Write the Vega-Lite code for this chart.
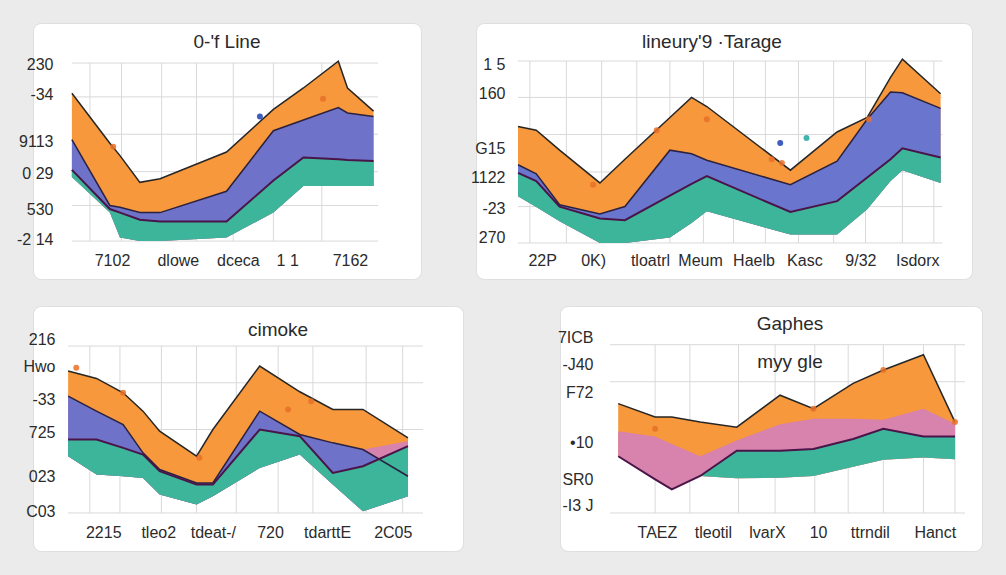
{
  "$schema": "https://vega.github.io/schema/vega-lite/v6.json",
  "background": "#ebebeb",
  "padding": {"left": 16, "top": 22, "right": 24, "bottom": 27},
  "spacing": 25,
  "config": {
    "view": {"stroke": null},
    "axis": {"domain": false, "ticks": false, "grid": false, "labelFont": "Liberation Sans", "labelFontSize": 16, "labelColor": "#2b2b2b", "labelOverlap": false, "labelFlush": false, "labelPadding": 2},
    "title": {"font": "Liberation Sans", "fontSize": 19, "fontWeight": "normal", "color": "#2a2a2a", "anchor": "middle", "subtitleFont": "Liberation Sans", "subtitleFontSize": 19, "subtitleColor": "#2a2a2a"},
    "point": {"filled": true, "size": 36, "opacity": 0.85}
  },
  "datasets": {
    "p1": [
      {"x": 0, "orange": 83, "blue": 57, "teal": 40, "base": 36},
      {"x": 1.24, "orange": 55, "blue": 20, "teal": 18, "base": 16},
      {"x": 1.57, "orange": 48, "blue": 19, "teal": 16, "base": 2},
      {"x": 2.22, "orange": 33, "blue": 16, "teal": 12, "base": 0},
      {"x": 2.88, "orange": 35, "blue": 16, "teal": 11, "base": 0},
      {"x": 5.05, "orange": 50, "blue": 28, "teal": 11, "base": 2},
      {"x": 6.58, "orange": 74, "blue": 62, "teal": 34, "base": 16},
      {"x": 7.56, "orange": 86, "blue": 68, "teal": 47, "base": 31},
      {"x": 8.7, "orange": 101, "blue": 75, "teal": 46, "base": 31},
      {"x": 9.0, "orange": 86, "blue": 72, "teal": 45.5, "base": 31},
      {"x": 9.85, "orange": 73, "blue": 70, "teal": 45, "base": 31}
    ],
    "d1": [
      {"x": 6.14, "v": 70, "kind": "blue"},
      {"x": 1.35, "v": 53, "kind": "orange"},
      {"x": 8.2, "v": 80, "kind": "orange"}
    ],
    "p2": [
      {"x": 0, "orange": 64, "blue": 43, "teal": 38.5, "base": 25.7},
      {"x": 0.43, "orange": 62, "blue": 38, "teal": 34, "base": 19.8},
      {"x": 0.98, "orange": 51, "blue": 21, "teal": 20, "base": 12},
      {"x": 1.93, "orange": 33, "blue": 16, "teal": 13.5, "base": 0},
      {"x": 2.52, "orange": 46, "blue": 20, "teal": 12.5, "base": 0},
      {"x": 3.58, "orange": 69, "blue": 51, "teal": 26, "base": 3},
      {"x": 4.09, "orange": 80, "blue": 49, "teal": 32.5, "base": 11},
      {"x": 4.45, "orange": 75, "blue": 45.5, "teal": 36.7, "base": 17.4},
      {"x": 6.42, "orange": 40, "blue": 32, "teal": 17, "base": 4.6},
      {"x": 7.52, "orange": 61, "blue": 45, "teal": 23, "base": 4.6},
      {"x": 8.23, "orange": 69, "blue": 68, "teal": 36, "base": 18.5},
      {"x": 8.78, "orange": 91, "blue": 83, "teal": 46, "base": 34},
      {"x": 9.06, "orange": 101, "blue": 82.6, "teal": 52, "base": 40},
      {"x": 9.96, "orange": 82, "blue": 74, "teal": 47, "base": 33}
    ],
    "d2": [
      {"x": 6.18, "v": 55, "kind": "blue"},
      {"x": 6.8, "v": 57.7, "kind": "teal"},
      {"x": 1.77, "v": 32, "kind": "orange"},
      {"x": 4.45, "v": 68, "kind": "orange"},
      {"x": 3.27, "v": 62, "kind": "orange"},
      {"x": 5.98, "v": 46, "kind": "orange"},
      {"x": 6.22, "v": 44, "kind": "orange"},
      {"x": 8.27, "v": 68, "kind": "orange"}
    ],
    "p3": [
      {"x": 0, "orange": 85, "pink": 70, "blue": 70, "teal": 44, "base": 34},
      {"x": 0.8, "orange": 80.6, "pink": 61, "blue": 61, "teal": 44, "base": 23},
      {"x": 1.55, "orange": 72, "pink": 53, "blue": 53, "teal": 39, "base": 22},
      {"x": 2.11, "orange": 61, "pink": 36, "blue": 36, "teal": 35, "base": 21},
      {"x": 2.58, "orange": 49, "pink": 26, "blue": 26, "teal": 25, "base": 11},
      {"x": 3.62, "orange": 34, "pink": 18, "blue": 18, "teal": 17, "base": 5},
      {"x": 4.08, "orange": 50, "pink": 18, "blue": 18, "teal": 17, "base": 10},
      {"x": 5.4, "orange": 88, "pink": 61, "blue": 61, "teal": 50, "base": 27},
      {"x": 6.53, "orange": 72.6, "pink": 47, "blue": 47, "teal": 46, "base": 35},
      {"x": 7.46, "orange": 62, "pink": 42, "blue": 42, "teal": 24, "base": 17},
      {"x": 8.31, "orange": 62, "pink": 38, "blue": 38, "teal": 28, "base": 1},
      {"x": 9.58, "orange": 45, "pink": 43, "blue": 22, "teal": 40, "base": 10}
    ],
    "d3": [
      {"x": 0.23, "v": 87, "kind": "orange"},
      {"x": 6.85, "v": 67, "kind": "orange"},
      {"x": 6.2, "v": 62, "kind": "orange"},
      {"x": 3.7, "v": 33, "kind": "orange"},
      {"x": 1.55, "v": 72, "kind": "orange"}
    ],
    "p4": [
      {"x": 0.23, "orange": 65, "pink": 48.5, "teal": 33.7, "base": 33.7},
      {"x": 1.27, "orange": 57, "pink": 45.5, "teal": 20, "base": 20},
      {"x": 1.74, "orange": 57, "pink": 41, "teal": 14, "base": 14},
      {"x": 2.54, "orange": 54, "pink": 33.7, "teal": 22, "base": 22},
      {"x": 3.57, "orange": 51, "pink": 43, "teal": 37, "base": 20.6},
      {"x": 4.79, "orange": 70, "pink": 52.7, "teal": 37, "base": 21},
      {"x": 5.73, "orange": 62, "pink": 56, "teal": 38, "base": 22},
      {"x": 6.85, "orange": 77, "pink": 56, "teal": 44, "base": 27.5},
      {"x": 7.7, "orange": 85, "pink": 55.4, "teal": 50, "base": 31.7},
      {"x": 8.83, "orange": 94, "pink": 62, "teal": 45.5, "base": 33},
      {"x": 9.72, "orange": 54, "pink": 53, "teal": 45.5, "base": 32}
    ],
    "d4": [
      {"x": 1.27, "v": 50, "kind": "orange"},
      {"x": 5.73, "v": 62, "kind": "orange"},
      {"x": 7.7, "v": 85, "kind": "orange"},
      {"x": 9.72, "v": 54, "kind": "orange"}
    ]
  },
  "vconcat": [
    {
      "bounds": "flush",
      "spacing": 55,
      "hconcat": [
        {
          "width": 388, "height": 256,
          "view": {"fill": "#ffffff", "cornerRadius": 8, "stroke": "#dedede"},
          "title": {"text": "0-'f Line", "offset": -29},
          "layer": [
            {"data": {"values": [{"g": 0.59}, {"g": 1.62}, {"g": 2.93}, {"g": 4.07}, {"g": 5.27}, {"g": 6.58}, {"g": 8.16}]},
             "mark": {"type": "rule", "color": "#d9d9d9", "strokeWidth": 1},
             "encoding": {
               "x": {"field": "g", "type": "quantitative", "scale": {"domain": [-1.27, 11.4], "nice": false, "zero": false},
                     "axis": {"title": null, "offset": -29, "values": [1.31, 3.46, 5.42, 7.03, 9.08], "labelExpr": "['7102','dlowe','dceca','1 1','7162'][indexof([1.31,3.46,5.42,7.03,9.08], datum.value)]"}},
               "y": {"datum": 0}, "y2": {"datum": 100}}},
            {"data": {"values": [{"h": 0}, {"h": 20}, {"h": 39}, {"h": 60}, {"h": 81}, {"h": 100}]},
             "mark": {"type": "rule", "color": "#d9d9d9", "strokeWidth": 1},
             "encoding": {
               "y": {"field": "h", "type": "quantitative", "scale": {"domain": [-21.3, 122.5], "nice": false, "zero": false},
                     "axis": {"title": null, "offset": -22, "values": [1.1, 18, 38, 56, 82.6, 99.4], "labelExpr": "['-2 14','530','0 29','9113','-34','230'][indexof([1.1,18,38,56,82.6,99.4], datum.value)]"}},
               "x": {"datum": 0}, "x2": {"datum": 10}}},
            {"data": {"name": "p1"}, "mark": {"type": "area", "color": "#F6983B"},
             "encoding": {"x": {"field": "x", "type": "quantitative"}, "y": {"field": "orange", "type": "quantitative"}, "y2": {"field": "base"}}},
            {"data": {"name": "p1"}, "mark": {"type": "area", "color": "#6E72C9"},
             "encoding": {"x": {"field": "x", "type": "quantitative"}, "y": {"field": "blue", "type": "quantitative"}, "y2": {"field": "base"}}},
            {"data": {"name": "p1"}, "mark": {"type": "area", "color": "#3DB59B"},
             "encoding": {"x": {"field": "x", "type": "quantitative"}, "y": {"field": "teal", "type": "quantitative"}, "y2": {"field": "base"}}},
            {"data": {"name": "p1"}, "mark": {"type": "line", "color": "#262626", "strokeWidth": 1.5},
             "encoding": {"x": {"field": "x", "type": "quantitative"}, "y": {"field": "orange", "type": "quantitative"}}},
            {"data": {"name": "p1"}, "mark": {"type": "line", "color": "#2b2140", "strokeWidth": 1.5},
             "encoding": {"x": {"field": "x", "type": "quantitative"}, "y": {"field": "blue", "type": "quantitative"}}},
            {"data": {"name": "p1"}, "mark": {"type": "line", "color": "#4a1448", "strokeWidth": 2},
             "encoding": {"x": {"field": "x", "type": "quantitative"}, "y": {"field": "teal", "type": "quantitative"}}},
            {"data": {"name": "d1"}, "mark": {"type": "point"},
             "encoding": {"x": {"field": "x", "type": "quantitative"}, "y": {"field": "v", "type": "quantitative"},
               "color": {"field": "kind", "type": "nominal", "legend": null, "scale": {"domain": ["orange", "blue", "teal"], "range": ["#E8702A", "#1F3FB0", "#22A6A0"]}}}}
          ]
        },
        {
          "width": 496, "height": 256,
          "view": {"fill": "#ffffff", "cornerRadius": 8, "stroke": "#dedede"},
          "title": {"text": "lineury'9 ·Tarage", "offset": -29, "dx": -12},
          "layer": [
            {"data": {"values": [{"g": 0.28}, {"g": 1.14}, {"g": 1.97}, {"g": 2.8}, {"g": 3.58}, {"g": 4.37}, {"g": 5.08}, {"g": 5.83}, {"g": 6.61}, {"g": 7.44}, {"g": 8.19}, {"g": 9.06}, {"g": 9.8}]},
             "mark": {"type": "rule", "color": "#d9d9d9", "strokeWidth": 1},
             "encoding": {
               "x": {"field": "g", "type": "quantitative", "scale": {"domain": [-0.99, 10.7], "nice": false, "zero": false},
                     "axis": {"title": null, "offset": -29, "values": [0.57, 1.77, 3.11, 4.29, 5.55, 6.75, 8.07, 9.41], "labelExpr": "['22P','0K)','tloatrl','Meum','Haelb','Kasc','9/32','Isdorx'][indexof([0.57,1.77,3.11,4.29,5.55,6.75,8.07,9.41], datum.value)]"}},
               "y": {"datum": 0}, "y2": {"datum": 100}}},
            {"data": {"values": [{"h": 0}, {"h": 20}, {"h": 39}, {"h": 59.6}, {"h": 80}, {"h": 100}]},
             "mark": {"type": "rule", "color": "#d9d9d9", "strokeWidth": 1},
             "encoding": {
               "y": {"field": "h", "type": "quantitative", "scale": {"domain": [-19.8, 120.9], "nice": false, "zero": false},
                     "axis": {"title": null, "offset": -31, "values": [3, 19, 36, 52, 82, 98], "labelExpr": "['270','-23','1122','G15','160','1 5'][indexof([3,19,36,52,82,98], datum.value)]"}},
               "x": {"datum": 0}, "x2": {"datum": 10}}},
            {"data": {"name": "p2"}, "mark": {"type": "area", "color": "#F6983B"},
             "encoding": {"x": {"field": "x", "type": "quantitative"}, "y": {"field": "orange", "type": "quantitative"}, "y2": {"field": "base"}}},
            {"data": {"name": "p2"}, "mark": {"type": "area", "color": "#6A76CD"},
             "encoding": {"x": {"field": "x", "type": "quantitative"}, "y": {"field": "blue", "type": "quantitative"}, "y2": {"field": "base"}}},
            {"data": {"name": "p2"}, "mark": {"type": "area", "color": "#3DB59B"},
             "encoding": {"x": {"field": "x", "type": "quantitative"}, "y": {"field": "teal", "type": "quantitative"}, "y2": {"field": "base"}}},
            {"data": {"name": "p2"}, "mark": {"type": "line", "color": "#262626", "strokeWidth": 1.5},
             "encoding": {"x": {"field": "x", "type": "quantitative"}, "y": {"field": "orange", "type": "quantitative"}}},
            {"data": {"name": "p2"}, "mark": {"type": "line", "color": "#2b2140", "strokeWidth": 1.5},
             "encoding": {"x": {"field": "x", "type": "quantitative"}, "y": {"field": "blue", "type": "quantitative"}}},
            {"data": {"name": "p2"}, "mark": {"type": "line", "color": "#4a1448", "strokeWidth": 2},
             "encoding": {"x": {"field": "x", "type": "quantitative"}, "y": {"field": "teal", "type": "quantitative"}}},
            {"data": {"name": "d2"}, "mark": {"type": "point"},
             "encoding": {"x": {"field": "x", "type": "quantitative"}, "y": {"field": "v", "type": "quantitative"},
               "color": {"field": "kind", "type": "nominal", "legend": null, "scale": {"domain": ["orange", "blue", "teal"], "range": ["#E8702A", "#1F3FB0", "#22A6A0"]}}}}
          ]
        }
      ]
    },
    {
      "bounds": "flush",
      "spacing": 97,
      "hconcat": [
        {
          "width": 430, "height": 245,
          "view": {"fill": "#ffffff", "cornerRadius": 8, "stroke": "#dedede"},
          "title": {"text": "cimoke", "offset": -34, "dx": 30},
          "layer": [
            {"data": {"values": [{"g": 0.61}, {"g": 1.46}, {"g": 2.63}, {"g": 3.62}, {"g": 4.74}, {"g": 5.92}, {"g": 6.9}, {"g": 8.4}, {"g": 9.43}]},
             "mark": {"type": "rule", "color": "#d9d9d9", "strokeWidth": 1},
             "encoding": {
               "x": {"field": "g", "type": "quantitative", "scale": {"domain": [-0.99, 11.13], "nice": false, "zero": false},
                     "axis": {"title": null, "offset": -29, "values": [0.99, 2.54, 4.08, 5.69, 7.3, 9.15], "labelExpr": "['2215','tleo2','tdeat-/','720','tdarttE','2C05'][indexof([0.99,2.54,4.08,5.69,7.3,9.15], datum.value)]"}},
               "y": {"datum": 0}, "y2": {"datum": 100}}},
            {"data": {"values": [{"h": 0}, {"h": 50}, {"h": 78}, {"h": 100}]},
             "mark": {"type": "rule", "color": "#d9d9d9", "strokeWidth": 1},
             "encoding": {
               "y": {"field": "h", "type": "quantitative", "scale": {"domain": [-22.8, 124], "nice": false, "zero": false},
                     "axis": {"title": null, "offset": -24, "values": [0.6, 22, 48, 68, 88, 104], "labelExpr": "['C03','023','725','-33','Hwo','216'][indexof([0.6,22,48,68,88,104], datum.value)]"}},
               "x": {"datum": 0}, "x2": {"datum": 10}}},
            {"data": {"name": "p3"}, "mark": {"type": "area", "color": "#F6983B"},
             "encoding": {"x": {"field": "x", "type": "quantitative"}, "y": {"field": "orange", "type": "quantitative"}, "y2": {"field": "base"}}},
            {"data": {"name": "p3"}, "mark": {"type": "area", "color": "#D882AE"},
             "encoding": {"x": {"field": "x", "type": "quantitative"}, "y": {"field": "pink", "type": "quantitative"}, "y2": {"field": "base"}}},
            {"data": {"name": "p3"}, "mark": {"type": "area", "color": "#6E72C9"},
             "encoding": {"x": {"field": "x", "type": "quantitative"}, "y": {"field": "blue", "type": "quantitative"}, "y2": {"field": "base"}}},
            {"data": {"name": "p3"}, "mark": {"type": "area", "color": "#3DB59B"},
             "encoding": {"x": {"field": "x", "type": "quantitative"}, "y": {"field": "teal", "type": "quantitative"}, "y2": {"field": "base"}}},
            {"data": {"name": "p3"}, "mark": {"type": "line", "color": "#262626", "strokeWidth": 1.5},
             "encoding": {"x": {"field": "x", "type": "quantitative"}, "y": {"field": "orange", "type": "quantitative"}}},
            {"data": {"name": "p3"}, "mark": {"type": "line", "color": "#2b2140", "strokeWidth": 1.5},
             "encoding": {"x": {"field": "x", "type": "quantitative"}, "y": {"field": "blue", "type": "quantitative"}}},
            {"data": {"name": "p3"}, "mark": {"type": "line", "color": "#4a1448", "strokeWidth": 2},
             "encoding": {"x": {"field": "x", "type": "quantitative"}, "y": {"field": "teal", "type": "quantitative"}}},
            {"data": {"name": "d3"}, "mark": {"type": "point"},
             "encoding": {"x": {"field": "x", "type": "quantitative"}, "y": {"field": "v", "type": "quantitative"},
               "color": {"field": "kind", "type": "nominal", "legend": null, "scale": {"domain": ["orange", "blue", "teal"], "range": ["#E8702A", "#1F3FB0", "#22A6A0"]}}}}
          ]
        },
        {
          "width": 422, "height": 245,
          "view": {"fill": "#ffffff", "cornerRadius": 8, "stroke": "#dedede"},
          "title": {"text": "Gaphes", "subtitle": "myy gle", "subtitlePadding": 19, "offset": -66, "dx": 19},
          "layer": [
            {"data": {"values": [{"g": 1.27}, {"g": 2.25}, {"g": 3.62}, {"g": 4.65}, {"g": 5.77}, {"g": 6.71}, {"g": 7.7}, {"g": 8.83}, {"g": 9.72}]},
             "mark": {"type": "rule", "color": "#d9d9d9", "strokeWidth": 1},
             "encoding": {
               "x": {"field": "g", "type": "quantitative", "scale": {"domain": [-1.41, 10.48], "nice": false, "zero": false},
                     "axis": {"title": null, "offset": -29, "values": [1.32, 2.9, 4.42, 5.86, 7.32, 9.15], "labelExpr": "['TAEZ','tleotil','lvarX','10','ttrndil','Hanct'][indexof([1.32,2.9,4.42,5.86,7.32,9.15], datum.value)]"}},
               "y": {"datum": 0}, "y2": {"datum": 100}}},
            {"data": {"values": [{"h": 0}, {"h": 78}, {"h": 100}]},
             "mark": {"type": "rule", "color": "#d9d9d9", "strokeWidth": 1},
             "encoding": {
               "y": {"field": "h", "type": "quantitative", "scale": {"domain": [-22.6, 123], "nice": false, "zero": false},
                     "axis": {"title": null, "offset": -35, "values": [4.2, 19.6, 41.7, 71.4, 88, 104], "labelExpr": "['-I3 J','SR0','•10','F72','-J40','7ICB'][indexof([4.2,19.6,41.7,71.4,88,104], datum.value)]"}},
               "x": {"datum": 0}, "x2": {"datum": 10}}},
            {"data": {"name": "p4"}, "mark": {"type": "area", "color": "#F6983B"},
             "encoding": {"x": {"field": "x", "type": "quantitative"}, "y": {"field": "orange", "type": "quantitative"}, "y2": {"field": "base"}}},
            {"data": {"name": "p4"}, "mark": {"type": "area", "color": "#D882AE"},
             "encoding": {"x": {"field": "x", "type": "quantitative"}, "y": {"field": "pink", "type": "quantitative"}, "y2": {"field": "base"}}},
            {"data": {"name": "p4"}, "mark": {"type": "area", "color": "#3DB59B"},
             "encoding": {"x": {"field": "x", "type": "quantitative"}, "y": {"field": "teal", "type": "quantitative"}, "y2": {"field": "base"}}},
            {"data": {"name": "p4"}, "mark": {"type": "line", "color": "#262626", "strokeWidth": 1.5},
             "encoding": {"x": {"field": "x", "type": "quantitative"}, "y": {"field": "orange", "type": "quantitative"}}},
            {"data": {"name": "p4"}, "mark": {"type": "line", "color": "#4a1448", "strokeWidth": 2},
             "encoding": {"x": {"field": "x", "type": "quantitative"}, "y": {"field": "teal", "type": "quantitative"}}},
            {"data": {"name": "d4"}, "mark": {"type": "point"},
             "encoding": {"x": {"field": "x", "type": "quantitative"}, "y": {"field": "v", "type": "quantitative"},
               "color": {"field": "kind", "type": "nominal", "legend": null, "scale": {"domain": ["orange", "blue", "teal"], "range": ["#E8702A", "#1F3FB0", "#22A6A0"]}}}}
          ]
        }
      ]
    }
  ]
}
